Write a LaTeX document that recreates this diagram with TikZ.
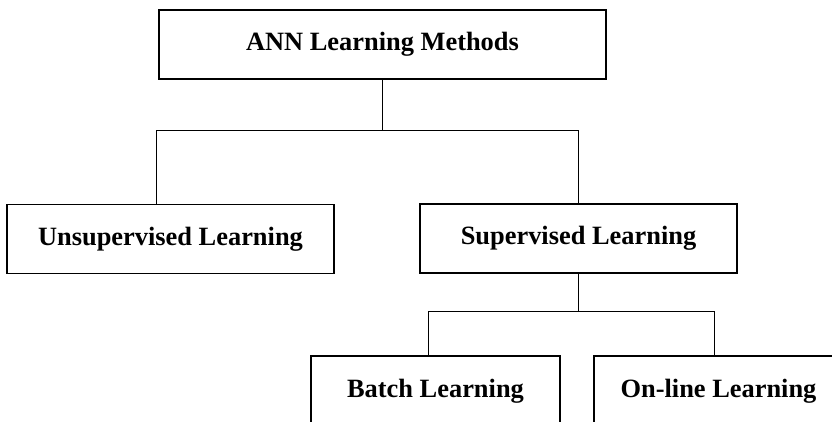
\documentclass[tikz,border=0pt]{standalone}
\usepackage{fontspec}
\setmainfont{Liberation Serif}
\usepackage{tikz}
\usetikzlibrary{positioning}
\tikzstyle{methodbox} = [draw=black, line width=1.6pt, rectangle, minimum height=69pt, inner sep=0pt, font=\fontsize{26.4}{30}\selectfont\bfseries]
\tikzstyle{branch} = [draw=black, line width=0.8pt]

\begin{document}
\begin{tikzpicture}[x=1pt, y=-1pt]
	\useasboundingbox (0,0) rectangle (832,422);
	\clip (0,0) rectangle (832,422);
	\node [methodbox, minimum width=447pt] (methods) at (382.5,44.5) {ANN Learning Methods};
	\node [methodbox, minimum width=327pt] (unsup) at (170.5,239) {Unsupervised Learning};
	\node [methodbox, minimum width=317pt] (sup) at (578.5,238.5) {Supervised Learning};
	\node [methodbox, minimum width=249pt, minimum height=70pt] (batch) at (435.5,391) {Batch Learning};
	\node [methodbox, minimum width=249pt, minimum height=70pt] (online) at (718.5,391) {On-line Learning};
	\coordinate (split1) at (382.5,130);
	\coordinate (split2) at (578.5,311);
	\draw [branch] (methods.south) -- (split1) -| ([xshift=-14.5pt]unsup.north);
	\draw [branch] (split1) -| (sup.north);
	\draw [branch] (sup.south) -- (split2) -| ([xshift=-7.5pt]batch.north);
	\draw [branch] (split2) -| ([xshift=-4.5pt]online.north);
\end{tikzpicture}
\end{document}
